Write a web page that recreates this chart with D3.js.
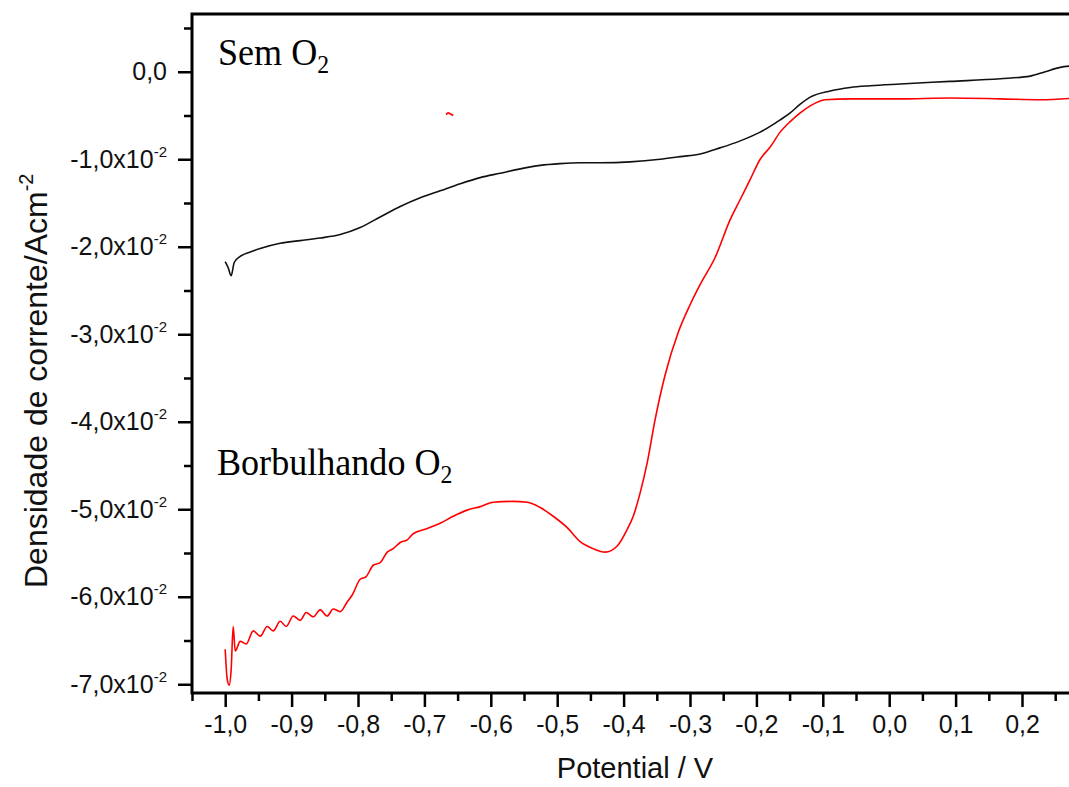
<!DOCTYPE html>
<html>
<head>
<meta charset="utf-8">
<script src="https://cdn.jsdelivr.net/npm/d3@7.9.0/dist/d3.min.js"></script>
<style>
  body { margin: 0; background: #fff; }
  svg { display: block; }
  .tick text { font-family: Arial, "Liberation Sans", sans-serif; font-size: 25px; fill: #111; }
</style>
</head>
<body>
<svg id="chart" width="1069" height="787"></svg>
<script>
// Sem O2 (black curve)
const potBlack = [-1.000, -0.9955, -0.991, -0.9864, -0.9774, -0.9623, -0.9473, -0.9172, -0.887, -0.8569,
  -0.8268, -0.7967, -0.7666, -0.7364, -0.7063, -0.6762, -0.6461, -0.616, -0.5858, -0.5557,
  -0.5256, -0.4955, -0.4654, -0.4352, -0.3901, -0.3449, -0.3148, -0.2846, -0.2545, -0.2244,
  -0.1943, -0.1642, -0.1491, -0.134, -0.119, -0.0889, -0.0587, -0.0286, 0.0166, 0.0919,
  0.1672, 0.2123, 0.2349, 0.2575, 0.2801];
const curBlack = [-0.0217, -0.0224, -0.0233, -0.0218, -0.0211, -0.0206, -0.0202, -0.0196, -0.0193, -0.0190,
  -0.0186, -0.0178, -0.0166, -0.0154, -0.0144, -0.0136, -0.0128, -0.0121, -0.0116, -0.0111,
  -0.0107, -0.0105, -0.0104, -0.0104, -0.0103, -0.0100, -0.0097, -0.0094, -0.0087, -0.0079,
  -0.0069, -0.0055, -0.0047, -0.0037, -0.0029, -0.0022, -0.0018, -0.0016, -0.0014, -0.0011,
  -0.0008, -0.0005, 0.0000, 0.0005, 0.0007];

// Borbulhando O2 (red curve)
const potRed = [-1.000, -0.997, -0.994, -0.991, -0.988, -0.9849, -0.9774, -0.9684, -0.9578, -0.9473,
  -0.9367, -0.9277, -0.9172, -0.9081, -0.8976, -0.887, -0.878, -0.8675, -0.8569, -0.8464,
  -0.8373, -0.8268, -0.8163, -0.8087, -0.7967, -0.7877, -0.7771, -0.7666, -0.756, -0.747,
  -0.7364, -0.7259, -0.7169, -0.6958, -0.6762, -0.6566, -0.6355, -0.616, -0.5964, -0.5663,
  -0.5452, -0.5256, -0.506, -0.4849, -0.4654, -0.4458, -0.4277, -0.4096, -0.3946, -0.3855,
  -0.375, -0.3645, -0.3524, -0.3373, -0.3178, -0.2997, -0.2846, -0.262, -0.2395, -0.2244,
  -0.2093, -0.1943, -0.1792, -0.1642, -0.1491, -0.134, -0.119, -0.0964, -0.0587, 0.0166,
  0.0919, 0.1672, 0.2274, 0.2801];
const curRed = [-0.0660, -0.0694, -0.0701, -0.0683, -0.0634, -0.0662, -0.0651, -0.0654, -0.0639, -0.0645,
  -0.0634, -0.0639, -0.0628, -0.0634, -0.0622, -0.0627, -0.0618, -0.0623, -0.0615, -0.0622,
  -0.0614, -0.0617, -0.0606, -0.0598, -0.0580, -0.0577, -0.0564, -0.0561, -0.0549, -0.0545,
  -0.0538, -0.0535, -0.0528, -0.0522, -0.0516, -0.0508, -0.0501, -0.0497, -0.0492, -0.0491,
  -0.0492, -0.0498, -0.0508, -0.0521, -0.0537, -0.0545, -0.0549, -0.0542, -0.0523, -0.0508,
  -0.0481, -0.0447, -0.0397, -0.0346, -0.0298, -0.0266, -0.0243, -0.0212, -0.0169, -0.0146,
  -0.0123, -0.0100, -0.0086, -0.0069, -0.0057, -0.0047, -0.0039, -0.0032, -0.0031, -0.0031,
  -0.0030, -0.0031, -0.0032, -0.0030];

// small stray red mark
const potMark = [-0.6672, -0.6641, -0.6611, -0.6566];
const curMark = [-0.0049, -0.0047, -0.0048, -0.0050];

const xTicks = [-1.0, -0.9, -0.8, -0.7, -0.6, -0.5, -0.4, -0.3, -0.2, -0.1, 0.0, 0.1, 0.2];
const xMinor = [-1.05, -0.95, -0.85, -0.75, -0.65, -0.55, -0.45, -0.35, -0.25, -0.15, -0.05, 0.05, 0.15, 0.25];
const yTicks = [0, -0.01, -0.02, -0.03, -0.04, -0.05, -0.06, -0.07];
const yMinor = [0.005, -0.005, -0.015, -0.025, -0.035, -0.045, -0.055, -0.065];

const svg = d3.select('#chart');
const mLeft = 192, mTop = 14, mBottom = 693;

const x = d3.scaleLinear().domain([-1.05, 0.30]).range([mLeft, mLeft + 1.35 * 664]);
const y = d3.scaleLinear().domain([-0.0710, 0.0066]).range([mBottom, mTop]);

const fmtX = (d) => d3.format('.1f')(d).replace('.', ',').replace('−', '-');

// x axis
const gx = svg.append('g').attr('transform', `translate(0,${mBottom})`);
gx.call(d3.axisBottom(x).tickValues(xTicks).tickSize(14).tickPadding(8).tickFormat(fmtX));
svg.append('g').attr('transform', `translate(0,${mBottom})`)
  .call(d3.axisBottom(x).tickValues(xMinor).tickSize(8).tickFormat(''));

// y axis
const gy = svg.append('g').attr('transform', `translate(${mLeft},0)`);
gy.call(d3.axisLeft(y).tickValues(yTicks).tickSize(14).tickPadding(11).tickFormat(''));
svg.append('g').attr('transform', `translate(${mLeft},0)`)
  .call(d3.axisLeft(y).tickValues(yMinor).tickSize(8).tickFormat(''));

// y labels like "-1,0x10^-2"
gy.selectAll('.tick text').each(function (d) {
  const t = d3.select(this);
  if (d === 0) { t.text('0,0'); return; }
  t.append('tspan').text(fmtX(d * 100) + 'x10');
  t.append('tspan').text('-2').attr('font-size', 15).attr('dy', -11);
});

svg.selectAll('.domain').remove();
svg.selectAll('.tick line').attr('stroke', '#000').attr('stroke-width', 2.5);

// frame
svg.append('rect')
  .attr('x', mLeft).attr('y', mTop)
  .attr('width', x.range()[1] - mLeft).attr('height', mBottom - mTop)
  .attr('fill', 'none').attr('stroke', '#000').attr('stroke-width', 3);

// curves
const line = d3.line().x((d) => x(d[0])).y((d) => y(d[1])).curve(d3.curveMonotoneX);
const plot = svg.append('g');
plot.append('path').datum(d3.zip(potBlack, curBlack))
  .attr('d', line).attr('fill', 'none').attr('stroke', '#111').attr('stroke-width', 1.6);
plot.append('path').datum(d3.zip(potRed, curRed))
  .attr('d', line).attr('fill', 'none').attr('stroke', '#ff0000').attr('stroke-width', 1.6);
plot.append('path').datum(d3.zip(potMark, curMark))
  .attr('d', line).attr('fill', 'none').attr('stroke', '#ff0000').attr('stroke-width', 1.8);

// annotations
const serif = '"Times New Roman", "Liberation Serif", serif';
function label(px, py, main) {
  const t = svg.append('text')
    .attr('transform', `translate(${px},${py}) scale(0.95,1)`)
    .attr('font-family', serif).attr('font-size', 38).attr('fill', '#000');
  t.append('tspan').text(main + ' O');
  t.append('tspan').text('2').attr('font-size', 25).attr('dy', 8);
}
label(218, 65, 'Sem');
label(217, 475, 'Borbulhando');

// axis titles
svg.append('text')
  .attr('x', 635).attr('y', 778).attr('text-anchor', 'middle')
  .attr('font-family', 'Arial, "Liberation Sans", sans-serif').attr('font-size', 29).attr('fill', '#111')
  .text('Potential / V');

const yt = svg.append('text')
  .attr('transform', 'translate(47,588) rotate(-90)')
  .attr('font-family', 'Arial, "Liberation Sans", sans-serif').attr('font-size', 32).attr('fill', '#111');
yt.append('tspan').text('Densidade de corrente/Acm');
yt.append('tspan').text('-2').attr('font-size', 20).attr('dy', -14);
</script>
</body>
</html>
